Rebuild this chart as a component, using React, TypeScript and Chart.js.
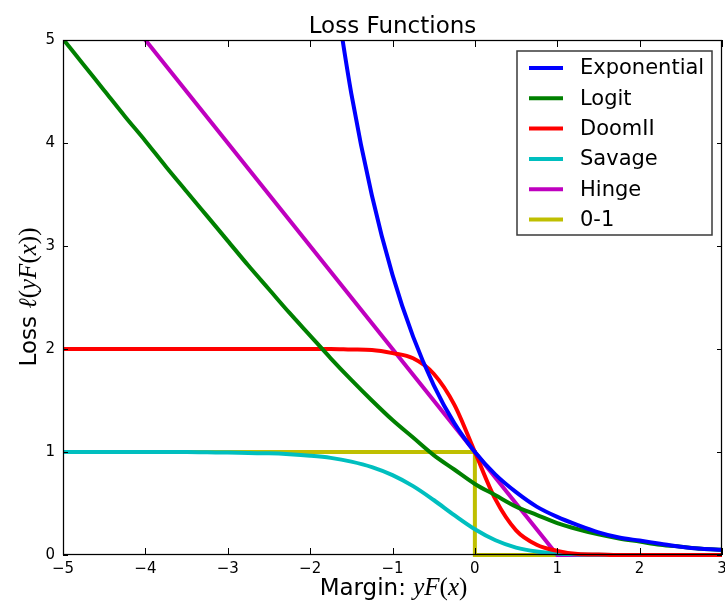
import React, { useEffect, useRef } from "react";
import { Chart, registerables } from "chart.js";

Chart.register(...registerables);

// ---- Data ----
const margins = [
  -5, -4.75, -4.5, -4.25, -4, -3.75, -3.5, -3.25, -3, -2.75, -2.5, -2.25, -2,
  -1.75, -1.5, -1.25, -1, -0.75, -0.5, -0.25, 0, 0.25, 0.5, 0.75, 1, 1.25, 1.5,
  1.75, 2, 2.25, 2.5, 2.75, 3,
];

const exponentialLoss = [
  null, null, null, null, null, null, null, null, null, null, null, null, null,
  5.75, 4.48, 3.49, 2.72, 2.12, 1.65, 1.28, 1.0, 0.78, 0.61, 0.47, 0.37, 0.29,
  0.22, 0.17, 0.14, 0.11, 0.08, 0.06, 0.05,
];

const logitLoss = [
  5.01, 4.76, 4.51, 4.26, 4.02, 3.77, 3.53, 3.29, 3.05, 2.81, 2.58, 2.35, 2.13,
  1.91, 1.7, 1.5, 1.31, 1.14, 0.97, 0.83, 0.69, 0.58, 0.47, 0.39, 0.31, 0.25,
  0.2, 0.16, 0.13, 0.1, 0.08, 0.06, 0.05,
];

const doomIILoss = [
  2.0, 2.0, 2.0, 2.0, 2.0, 2.0, 2.0, 2.0, 2.0, 2.0, 2.0, 2.0, 2.0, 2.0, 1.995,
  1.99, 1.96, 1.91, 1.76, 1.46, 1.0, 0.54, 0.24, 0.1, 0.04, 0.01, 0.005, 0, 0,
  0, 0, 0, 0,
];

const savageLoss = [
  1.0, 1.0, 1.0, 1.0, 1.0, 1.0, 1.0, 0.997, 0.995, 0.99, 0.987, 0.978, 0.964,
  0.943, 0.907, 0.854, 0.776, 0.669, 0.534, 0.387, 0.25, 0.143, 0.072, 0.033,
  0.014, 0.006, 0.002, 0.001, 0, 0, 0, 0, 0,
];

const hingeLoss = [
  6, 5.75, 5.5, 5.25, 5, 4.75, 4.5, 4.25, 4, 3.75, 3.5, 3.25, 3, 2.75, 2.5,
  2.25, 2, 1.75, 1.5, 1.25, 1, 0.75, 0.5, 0.25, 0, 0, 0, 0, 0, 0, 0, 0, 0,
];

const zeroOneX = [-5, 0, 0, 3];
const zeroOneY = [1, 1, 0, 0];

const seriesNames = ["Exponential", "Logit", "DoomII", "Savage", "Hinge", "0-1"];
const seriesColors = ["#0000ff", "#008000", "#ff0000", "#00bfbf", "#bf00bf", "#bfbf00"];

const xTicks = [-5, -4, -3, -2, -1, 0, 1, 2, 3];
const yTicks = [0, 1, 2, 3, 4, 5];

const titleText = "Loss Functions";

const SANS = '"DejaVu Sans"';
const SERIF = '"Liberation Serif"';

function pts(xs: number[], ys: (number | null)[]) {
  return xs.map((x, i) => ({ x, y: ys[i] }));
}

type Part = [string, string];

function drawParts(ctx: CanvasRenderingContext2D, parts: Part[], cx: number, by: number) {
  let total = 0;
  const widths = parts.map(([t, f]) => {
    ctx.font = f;
    const w = ctx.measureText(t).width;
    total += w;
    return w;
  });
  let x = cx - total / 2;
  ctx.textAlign = "left";
  ctx.textBaseline = "alphabetic";
  parts.forEach(([t, f], i) => {
    ctx.font = f;
    ctx.fillText(t, x, by);
    x += widths[i];
  });
}

const decorPlugin = {
  id: "decor",
  afterDatasetsDraw(chart: any) {
    const { ctx, chartArea: a, scales } = chart;
    const xs = scales.x;
    const ys = scales.y;
    ctx.save();
    ctx.strokeStyle = "#000";
    ctx.lineWidth = 1;
    // inside tick marks on all four sides
    ctx.beginPath();
    xTicks.forEach((v) => {
      const px = Math.round(xs.getPixelForValue(v)) + 0.5;
      ctx.moveTo(px, a.bottom);
      ctx.lineTo(px, a.bottom - 7);
      ctx.moveTo(px, a.top);
      ctx.lineTo(px, a.top + 7);
    });
    yTicks.forEach((v) => {
      const py = Math.round(ys.getPixelForValue(v)) + 0.5;
      ctx.moveTo(a.left, py);
      ctx.lineTo(a.left + 5, py);
      ctx.moveTo(a.right, py);
      ctx.lineTo(a.right - 5, py);
    });
    ctx.stroke();
    // frame
    ctx.lineWidth = 1.25;
    ctx.strokeRect(a.left + 0.5, a.top + 0.5, a.right - a.left - 1, a.bottom - a.top - 1);

    // legend box
    const lx = 517, ly = 51, lw = 195, lh = 184;
    ctx.fillStyle = "#ffffff";
    ctx.fillRect(lx, ly, lw, lh);
    ctx.strokeStyle = "#3a3a3a";
    ctx.lineWidth = 1.5;
    ctx.strokeRect(lx, ly, lw, lh);
    ctx.font = `21px ${SANS}`;
    ctx.textAlign = "left";
    ctx.textBaseline = "middle";
    seriesNames.forEach((name, i) => {
      const cy = 68 + i * 30.3;
      ctx.strokeStyle = seriesColors[i];
      ctx.lineWidth = 4;
      ctx.beginPath();
      ctx.moveTo(529, cy);
      ctx.lineTo(563, cy);
      ctx.stroke();
      ctx.fillStyle = "#000";
      ctx.fillText(name, 580, cy + 1);
    });
    ctx.restore();
  },
  afterDraw(chart: any) {
    const { ctx, chartArea: a } = chart;
    ctx.save();
    ctx.fillStyle = "#000";
    const cx = (a.left + a.right) / 2;
    // title
    drawParts(ctx, [[titleText, `23px ${SANS}`]], cx, 33);
    // x axis label
    drawParts(
      ctx,
      [
        ["Margin: ", `23px ${SANS}`],
        ["yF", `italic 25px ${SERIF}`],
        ["(", `25px ${SERIF}`],
        ["x", `italic 25px ${SERIF}`],
        [")", `25px ${SERIF}`],
      ],
      cx + 1,
      595
    );
    // y axis label (rotated)
    ctx.translate(36, 297);
    ctx.rotate(-Math.PI / 2);
    drawParts(
      ctx,
      [
        ["Loss ", `23px ${SANS}`],
        ["\u2113", `italic 25px ${SERIF}`],
        ["(", `25px ${SERIF}`],
        ["yF", `italic 25px ${SERIF}`],
        ["(", `25px ${SERIF}`],
        ["x", `italic 25px ${SERIF}`],
        ["))", `25px ${SERIF}`],
      ],
      0,
      0
    );
    ctx.restore();
  },
};

export default function App() {
  const ref = useRef<HTMLCanvasElement | null>(null);

  useEffect(() => {
    if (!ref.current) return;
    const lossSeries = [exponentialLoss, logitLoss, doomIILoss, savageLoss, hingeLoss];
    const clip = { left: 0, top: 0, right: 0, bottom: 2 };
    const datasets: any[] = lossSeries.map((ys, i) => ({
      label: seriesNames[i],
      data: pts(margins, ys),
      borderColor: seriesColors[i],
      backgroundColor: seriesColors[i],
      borderWidth: 4,
      pointRadius: 0,
      fill: false,
      cubicInterpolationMode: i === 4 ? "default" : "monotone",
      tension: 0,
      spanGaps: false,
      clip,
    }));
    datasets.push({
      label: seriesNames[5],
      data: pts(zeroOneX, zeroOneY),
      borderColor: seriesColors[5],
      backgroundColor: seriesColors[5],
      borderWidth: 4,
      pointRadius: 0,
      fill: false,
      tension: 0,
      clip,
    });

    const fmt = (v: any) => String(v).replace("-", "\u2212");

    const chart = new Chart(ref.current, {
      type: "line",
      data: { datasets },
      options: {
        animation: false,
        responsive: false,
        maintainAspectRatio: false,
        layout: { padding: { top: 40, left: 0, right: 3, bottom: 0 }, autoPadding: false },
        plugins: {
          legend: { display: false },
          title: { display: false },
          tooltip: { enabled: false },
        },
        scales: {
          x: {
            type: "linear",
            min: -5,
            max: 3,
            grid: { display: false, drawTicks: false },
            border: { display: false },
            ticks: {
              stepSize: 1,
              padding: 5,
              color: "#000",
              maxRotation: 0,
              autoSkip: false,
              font: { family: "DejaVu Sans", size: 15 },
              callback: fmt,
            },
            afterFit(scale: any) {
              scale.height = 51;
              scale.paddingLeft = 0;
              scale.paddingRight = 0;
            },
          },
          y: {
            type: "linear",
            min: 0,
            max: 5,
            grid: { display: false, drawTicks: false },
            border: { display: false },
            ticks: {
              stepSize: 1,
              padding: 8,
              color: "#000",
              autoSkip: false,
              font: { family: "DejaVu Sans", size: 15 },
              callback: fmt,
            },
            afterFit(scale: any) {
              scale.width = 63;
              scale.paddingTop = 0;
              scale.paddingBottom = 0;
            },
          },
        },
      },
      plugins: [decorPlugin],
    } as any);
    return () => chart.destroy();
  }, []);

  return (
    <div style={{ position: "fixed", left: 0, top: 0, width: 725, height: 606, background: "#fff" }}>
      <canvas ref={ref} width={725} height={606} style={{ display: "block", width: 725, height: 606 }} />
    </div>
  );
}
